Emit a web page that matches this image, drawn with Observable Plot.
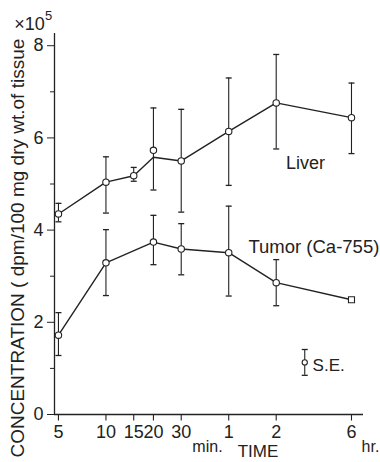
<!DOCTYPE html>
<html><head><meta charset="utf-8">
<script src="https://cdn.jsdelivr.net/npm/d3@7"></script>
<script src="https://cdn.jsdelivr.net/npm/@observablehq/plot@0.6"></script>
<style>html,body{margin:0;padding:0;background:#fff} svg{display:block}</style>
</head><body><div id="chart"></div>
<script>
// Time points in minutes and their printed tick labels
const times = [5, 10, 15, 20, 30, 60, 120, 360];
const tickLabels = ["5", "10", "15", "20", "30", "1", "2", "6"];

// Liver (x10^5 dpm/100 mg dry wt.)
const liverMean = [4.35, 5.04, 5.18, 5.73, 5.50, 6.14, 6.76, 6.44];
const liverLine = [4.35, 5.04, 5.18, 5.58, 5.50, 6.14, 6.76, 6.44];
const liverHi   = [4.58, 5.59, 5.36, 6.65, 6.62, 7.30, 7.81, 7.19];
const liverLo   = [4.18, 4.37, 5.06, 4.87, 4.39, 4.97, 5.76, 5.66];

// Tumor (Ca-755)
const tumorTimes = [5, 10, 20, 30, 60, 120, 360];
const tumorMean  = [1.72, 3.29, 3.74, 3.59, 3.51, 2.86, 2.49];
const tumorHi    = [2.21, 4.01, 4.32, 4.14, 4.52, 3.36, null];
const tumorLo    = [1.28, 2.58, 3.25, 3.03, 2.57, 2.36, null];

// Y ticks
const majorTicks = [0, 2, 4, 6, 8];
const minorTicks = [1, 3, 5, 7];

// Annotations (in data units)
const liverNote = [{time: 184, value: 5.44, text: "Liver"}];
const tumorNote = [{time: 80, value: 3.63, text: "Tumor (Ca-755)"}];
const seKey = [{time: 182, mean: 1.13, hi: 1.41, lo: 0.85}];
const seNote = [{time: 204, value: 1.06, text: "S.E."}];
const axisNotes = [
  {time: 44, text: "min.", dy: 32, size: 16},
  {time: 92, text: "TIME", dy: 37, size: 17},
  {time: 475, text: "hr.", dy: 32, size: 16}
];
const yTitle = "CONCENTRATION ( dpm/100 mg dry wt.of tissue";

const xDomain = [4.72, 429];
const yDomain = [0, 8.265];

const liver = times.map((t, i) => ({time: t, mean: liverMean[i], line: liverLine[i], hi: liverHi[i], lo: liverLo[i]}));
const tumor = tumorTimes.map((t, i) => ({time: t, mean: tumorMean[i], hi: tumorHi[i], lo: tumorLo[i]}));
const tumorBars = tumor.filter(d => d.hi != null);
const tumorSquare = tumor.filter(d => d.hi == null);
const xTicks = times.map((t, i) => ({time: t, label: tickLabels[i]}));

const cap = {draw(ctx) { ctx.moveTo(-3, 0); ctx.lineTo(3, 0); }};
const downTick = {draw(ctx) { ctx.moveTo(0, 0); ctx.lineTo(0, 6); }};
const ink = "#222";

const errMarks = (data) => [
  Plot.ruleX(data, {x: "time", y1: "lo", y2: "hi", stroke: ink, strokeWidth: 1.1}),
  Plot.dot(data, {x: "time", y: "hi", symbol: cap, stroke: ink, strokeWidth: 1.3}),
  Plot.dot(data, {x: "time", y: "lo", symbol: cap, stroke: ink, strokeWidth: 1.3})
];

const chart = Plot.plot({
  width: 380,
  height: 462,
  marginLeft: 54,
  marginRight: 17,
  marginTop: 33,
  marginBottom: 48,
  style: {fontFamily: "'Liberation Sans', Arial, sans-serif", color: ink, background: "#fff"},
  x: {type: "log", domain: xDomain, axis: null},
  y: {domain: yDomain, axis: null},
  marks: [
    Plot.ruleY([0], {stroke: ink, strokeWidth: 1.3}),
    Plot.ruleX([xDomain[0]], {stroke: ink, strokeWidth: 1.3}),
    Plot.axisY({ticks: majorTicks, tickSize: 7, tickPadding: 4, fontSize: 18, tickFormat: d => String(d), label: null, stroke: ink}),
    Plot.axisY({ticks: minorTicks, tickSize: 4, tickFormat: () => "", label: null, stroke: ink}),
    Plot.dot(xTicks, {x: "time", y: 0, symbol: downTick, stroke: ink, strokeWidth: 1.1}),
    Plot.text(xTicks, {x: "time", text: "label", frameAnchor: "bottom", lineAnchor: "middle", textAnchor: "middle", dy: 18, fontSize: 18, fill: ink}),
    ...errMarks(liver),
    ...errMarks(tumorBars),
    ...errMarks(seKey),
    Plot.line(liver, {x: "time", y: "line", stroke: ink, strokeWidth: 1.4}),
    Plot.line(tumor, {x: "time", y: "mean", stroke: ink, strokeWidth: 1.4}),
    Plot.dot(liver, {x: "time", y: "mean", r: 3.2, fill: "white", stroke: ink, strokeWidth: 1.1}),
    Plot.dot(tumorBars, {x: "time", y: "mean", r: 3.2, fill: "white", stroke: ink, strokeWidth: 1.1}),
    Plot.dot(tumorSquare, {x: "time", y: "mean", symbol: "square", r: 3.4, fill: "white", stroke: ink, strokeWidth: 1.1}),
    Plot.dot(seKey, {x: "time", y: "mean", r: 2.6, fill: "white", stroke: ink, strokeWidth: 1.1}),
    Plot.text(liverNote, {x: "time", y: "value", text: "text", textAnchor: "middle", fontSize: 18, fill: ink}),
    Plot.text(tumorNote, {x: "time", y: "value", text: "text", textAnchor: "start", fontSize: 18.5, fill: ink}),
    Plot.text(seNote, {x: "time", y: "value", text: "text", textAnchor: "start", fontSize: 17, fill: ink}),
    ...axisNotes.map(n => Plot.text([n], {x: "time", text: "text", frameAnchor: "bottom", lineAnchor: "middle", textAnchor: "middle", dy: n.dy, fontSize: n.size, fill: ink})),
    Plot.text(["×10"], {frameAnchor: "top-left", textAnchor: "middle", lineAnchor: "middle", dx: -25, dy: -9, fontSize: 18, fill: ink}),
    Plot.text(["5"], {frameAnchor: "top-left", textAnchor: "middle", lineAnchor: "middle", dx: -6, dy: -18, fontSize: 13, fill: ink}),
    Plot.text([yTitle], {frameAnchor: "bottom-left", dx: -37, dy: 43, rotate: -90, textAnchor: "start", lineAnchor: "middle", fontSize: 19, fill: ink, ariaLabel: "y-title"})
  ]
});

d3.select(chart).selectAll('g[aria-label="y-title"] text')
  .attr("textLength", 419)
  .attr("lengthAdjust", "spacingAndGlyphs");

document.getElementById("chart").appendChild(chart);
</script>
</body></html>
